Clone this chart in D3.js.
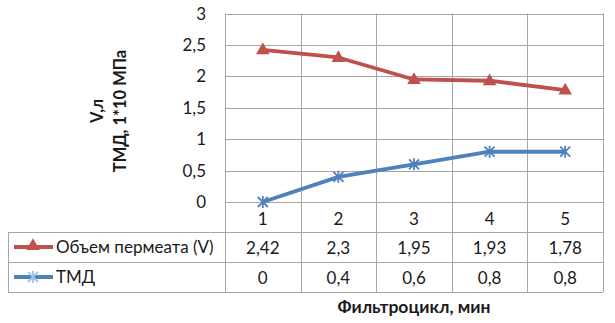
<!DOCTYPE html>
<html>
<head>
<meta charset="utf-8">
<script src="https://cdn.jsdelivr.net/npm/d3@7"></script>
<style>
  body { margin: 0; background: #fff; }
  svg { font-family: Lato, "Open Sans", sans-serif; }
</style>
</head>
<body>
<div id="chart"></div>
<script>
// данные
const categories = [1, 2, 3, 4, 5];
const volume = [2.42, 2.3, 1.95, 1.93, 1.78];
const tmd = [0, 0.4, 0.6, 0.8, 0.8];
const seriesNames = ["Объем пермеата (V)", "ТМД"];
const yTicks = [0, 0.5, 1, 1.5, 2, 2.5, 3];

const width = 615, height = 323;
const plotLeft = 225, plotRight = 603, plotTop = 13.5, zeroY = 202;
const rowH = 30, tableLeft = 8;
const red = "#c0504d", blue = "#4f81bd", grid = "#a6a6a6";
const fs = 17, txt = "#1a1a1a";

const fmt = v => String(v).replace(".", ",");

const svg = d3.select("#chart").append("svg")
  .attr("width", width).attr("height", height);

const x = d3.scaleBand().domain(categories).range([plotLeft, plotRight]);
const y = d3.scaleLinear().domain([0, 3]).range([zeroY, plotTop]);

// горизонтальная сетка
svg.append("g").selectAll("line").data(yTicks).enter().append("line")
  .attr("x1", plotLeft).attr("x2", plotRight)
  .attr("y1", d => Math.round(y(d)) + 0.5).attr("y2", d => Math.round(y(d)) + 0.5)
  .attr("stroke", grid);

// вертикальные линии (сетка + таблица)
const tableBottom = zeroY + rowH * 3;
const xs = categories.map(c => x(c)).concat([plotRight]);
svg.append("g").selectAll("line").data(xs).enter().append("line")
  .attr("x1", d => Math.round(d) + 0.5).attr("x2", d => Math.round(d) + 0.5)
  .attr("y1", plotTop).attr("y2", tableBottom)
  .attr("stroke", grid);

// строки таблицы
[1, 2, 3].forEach(i => {
  const yy = Math.round(zeroY + rowH * i) + 0.5;
  svg.append("line").attr("x1", tableLeft).attr("x2", plotRight)
    .attr("y1", yy).attr("y2", yy).attr("stroke", grid);
});
svg.append("line").attr("x1", tableLeft + 0.5).attr("x2", tableLeft + 0.5)
  .attr("y1", zeroY + rowH).attr("y2", tableBottom).attr("stroke", grid);

// подписи оси Y
svg.append("g").selectAll("text").data(yTicks).enter().append("text")
  .attr("x", 206).attr("y", d => y(d) + 6)
  .attr("text-anchor", "end").attr("font-size", fs).attr("fill", txt)
  .text(fmt);

// категории
svg.append("g").selectAll("text").data(categories).enter().append("text")
  .attr("x", d => x(d) + x.bandwidth() / 2).attr("y", zeroY + 22.5)
  .attr("text-anchor", "middle").attr("font-size", fs).attr("fill", txt)
  .text(d => d);

// значения в таблице
[volume, tmd].forEach((vals, r) => {
  svg.append("g").selectAll("text").data(vals).enter().append("text")
    .attr("x", (d, i) => x(categories[i]) + x.bandwidth() / 2)
    .attr("y", zeroY + rowH * (r + 1) + 21.5)
    .attr("text-anchor", "middle").attr("font-size", fs).attr("fill", txt)
    .text(fmt);
});

// маркеры
const tri = d3.symbol().type(d3.symbolTriangle).size(80);
function star(g, cx, cy, col) {
  const s = 5;
  g.append("path")
    .attr("d", `M${cx - s},${cy - s}L${cx + s},${cy + s}M${cx - s},${cy + s}L${cx + s},${cy - s}M${cx},${cy - s - 1}L${cx},${cy + s + 1}`)
    .attr("stroke", col).attr("stroke-width", 1.8).attr("fill", "none");
}

const line = d3.line()
  .x((d, i) => x(categories[i]) + x.bandwidth() / 2)
  .y(d => y(d));

svg.append("path").datum(volume).attr("d", line)
  .attr("fill", "none").attr("stroke", red).attr("stroke-width", 3.8)
  .attr("stroke-linejoin", "round");
svg.append("g").selectAll("path").data(volume).enter().append("path")
  .attr("d", tri)
  .attr("transform", (d, i) => `translate(${x(categories[i]) + x.bandwidth() / 2},${y(d) + 0.5})`)
  .attr("fill", red);

svg.append("path").datum(tmd).attr("d", line)
  .attr("fill", "none").attr("stroke", blue).attr("stroke-width", 3.8)
  .attr("stroke-linejoin", "round");
const stars = svg.append("g");
tmd.forEach((d, i) => star(stars, x(categories[i]) + x.bandwidth() / 2, y(d), blue));

// легенда в таблице
[[red, "tri"], [blue, "star"]].forEach(([col, m], r) => {
  const cy = zeroY + rowH * (r + 1) + 15;
  svg.append("line").attr("x1", 14).attr("x2", 53).attr("y1", cy).attr("y2", cy)
    .attr("stroke", col).attr("stroke-width", 3.8);
  if (m === "tri") {
    svg.append("path").attr("d", tri).attr("transform", `translate(33,${cy - 1})`).attr("fill", col);
  } else {
    star(svg, 33, cy, "#9dc3e6");
  }
  svg.append("text").attr("x", 56).attr("y", cy + 6)
    .attr("font-size", fs).attr("fill", txt)
    .text(seriesNames[r]);
});

// заголовки осей
const yTitle = svg.append("text")
  .attr("transform", "rotate(-90)")
  .attr("text-anchor", "middle").attr("font-size", 16.5).attr("font-weight", "bold").attr("fill", txt);
yTitle.append("tspan").attr("x", -111).attr("y", 103).text("V,л");
yTitle.append("tspan").attr("x", -111).attr("y", 126).text("ТМД, 1*10 МПа");

svg.append("text").attr("x", (plotLeft + plotRight) / 2).attr("y", 313)
  .attr("text-anchor", "middle").attr("font-size", 17.5).attr("font-weight", "bold").attr("fill", txt)
  .text("Фильтроцикл, мин");
</script>
</body>
</html>
